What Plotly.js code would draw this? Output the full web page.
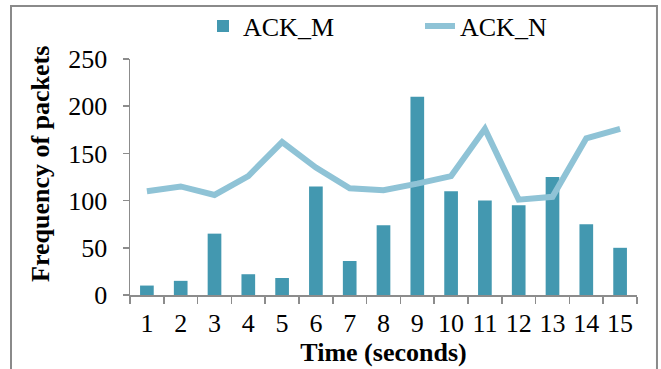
<!DOCTYPE html>
<html>
<head>
<meta charset="utf-8">
<script src="https://cdn.plot.ly/plotly-3.0.1.min.js"></script>
<style>
  html, body { margin: 0; padding: 0; background: #ffffff; }
  #chart { width: 661px; height: 369px; }
</style>
</head>
<body>
<div id="chart"></div>
<script>
const categories = ["1","2","3","4","5","6","7","8","9","10","11","12","13","14","15"];
const ackM = [10, 15, 65, 22, 18, 115, 36, 74, 210, 110, 100, 95, 125, 75, 50];
const ackN = [110, 115, 106, 126, 162, 135, 113, 111, 118, 126, 176, 101, 104, 166, 176];
const seriesNames = ["ACK_M", "ACK_N"];
const yTickVals = [0, 50, 100, 150, 200, 250];

const serif = "Liberation Serif, Times New Roman, serif";
const axisGray = "#8c8c8c";

const traces = [
  {
    type: "bar",
    name: seriesNames[0],
    x: categories,
    y: ackM,
    legend: "legend",
    marker: { color: "#4398b0" }
  },
  {
    type: "scatter",
    mode: "lines",
    name: seriesNames[1],
    x: categories,
    y: ackN,
    legend: "legend2",
    line: { color: "#8fc3d6", width: 6 }
  }
];

const legendCommon = {
  orientation: "h",
  xanchor: "left",
  yref: "container",
  y: 1 - 26 / 369, yanchor: "middle",
  font: { family: serif, size: 26, color: "#000000" },
  bgcolor: "rgba(0,0,0,0)"
};

const layout = {
  width: 661,
  height: 369,
  margin: { l: 130, r: 24, t: 59, b: 74 },
  paper_bgcolor: "#ffffff",
  plot_bgcolor: "#ffffff",
  font: { family: serif, color: "#000000", size: 26 },
  bargap: 0.595,
  showlegend: true,
  legend: Object.assign({}, legendCommon, { x: (203 - 130) / 507 }),
  legend2: Object.assign({}, legendCommon, { x: (420 - 130) / 507 }),
  xaxis: {
    type: "category",
    tickson: "boundaries",
    tickangle: 0,
    ticks: "outside",
    ticklen: 7,
    tickcolor: axisGray,
    tickwidth: 1.5,
    showline: true,
    linecolor: axisGray,
    linewidth: 1.5,
    showgrid: false,
    zeroline: false,
    tickfont: { family: serif, size: 26, color: "#000000" },
    ticklabelstandoff: 4,
    title: { text: "<b>Time (seconds)</b>", font: { family: serif, size: 26, color: "#000000" }, standoff: 0 }
  },
  yaxis: {
    range: [0, 250],
    tickvals: yTickVals,
    ticks: "outside",
    ticklen: 6,
    tickcolor: axisGray,
    tickwidth: 1.5,
    showline: true,
    linecolor: axisGray,
    linewidth: 1.5,
    showgrid: false,
    zeroline: false,
    tickfont: { family: serif, size: 26, color: "#000000" },
    ticklabelstandoff: 10
  },
  annotations: [
    {
      text: "<b>Frequency of packets</b>",
      xref: "paper", yref: "paper",
      x: (40 - 130) / 507, y: (295 - 164) / 236,
      xanchor: "center", yanchor: "middle",
      textangle: -90,
      showarrow: false,
      font: { family: serif, size: 26, color: "#000000" }
    }
  ],
  shapes: [
    {
      type: "path",
      xref: "paper", yref: "paper",
      path: "M -0.2347,-0.35 L -0.2347,1.2246 L 1.0394,1.2246 L 1.0394,-0.35",
      line: { color: "#8a8a8a", width: 2 }
    }
  ]
};

Plotly.newPlot("chart", traces, layout, { displayModeBar: false, staticPlot: true });
</script>
</body>
</html>
